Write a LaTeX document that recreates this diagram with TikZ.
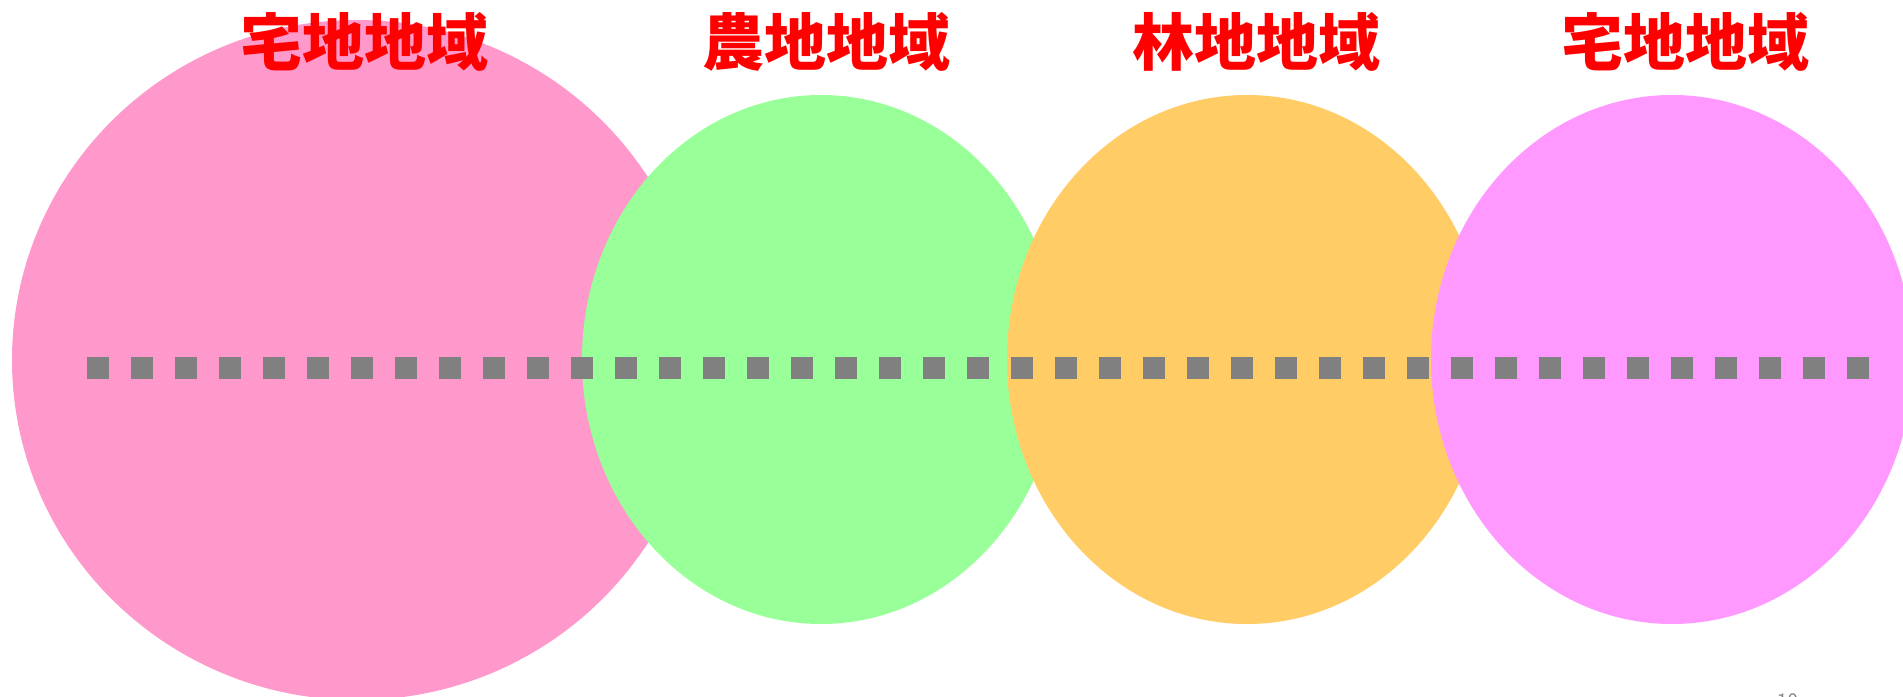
\documentclass[tikz,border=0pt]{standalone}
\usepackage{fontspec}
\newfontfamily\cjk{Noto Sans CJK JP}
\usetikzlibrary{shapes.geometric}
\definecolor{pinkA}{HTML}{FF99CC}
\definecolor{greenA}{HTML}{99FF99}
\definecolor{orangeA}{HTML}{FFCC66}
\definecolor{magentaA}{HTML}{FF99FF}
\definecolor{dotgray}{HTML}{808080}
\definecolor{labelred}{HTML}{FF0000}
\tikzset{
  zone/.style={ellipse, inner sep=0pt, outer sep=0pt, draw=none},
  zonelabel/.style={text=labelred, font=\cjk\bfseries\fontsize{62}{62}\selectfont, inner sep=0pt},
  dotline/.style={draw=dotgray, line width=22pt, dash pattern=on 22pt off 22pt},
  pagenum/.style={text=dotgray, font=\sffamily\fontsize{22}{22}\selectfont, inner sep=0pt, anchor=base west}
}
\begin{document}
\begin{tikzpicture}[x=1pt,y=-1pt]
\useasboundingbox (0,0) rectangle (1903,696);
\node[zone, fill=pinkA, minimum width=690pt, minimum height=680pt] (takuchiA) at (357,360) {};
\node[zone, fill=greenA, minimum width=478pt, minimum height=529pt] (nouchi) at (821,359.5) {};
\node[zone, fill=orangeA, minimum width=480pt, minimum height=529pt] (rinchi) at (1247,359.5) {};
\node[zone, fill=magentaA, minimum width=482pt, minimum height=529pt] (takuchiB) at (1672,359.5) {};
\coordinate (ls) at (86.7,367.5);
\coordinate (le) at (1869.3,367.5);
\draw[dotline] (ls) -- (le);
\node[zonelabel] (labA) at (364,42) {宅地地域};
\node[zonelabel] (labB) at (826,42) {農地地域};
\node[zonelabel] (labC) at (1256,42) {林地地域};
\node[zonelabel] (labD) at (1685,42) {宅地地域};
\node[pagenum] (pg) at (1777,708) {10};
\end{tikzpicture}
\end{document}
